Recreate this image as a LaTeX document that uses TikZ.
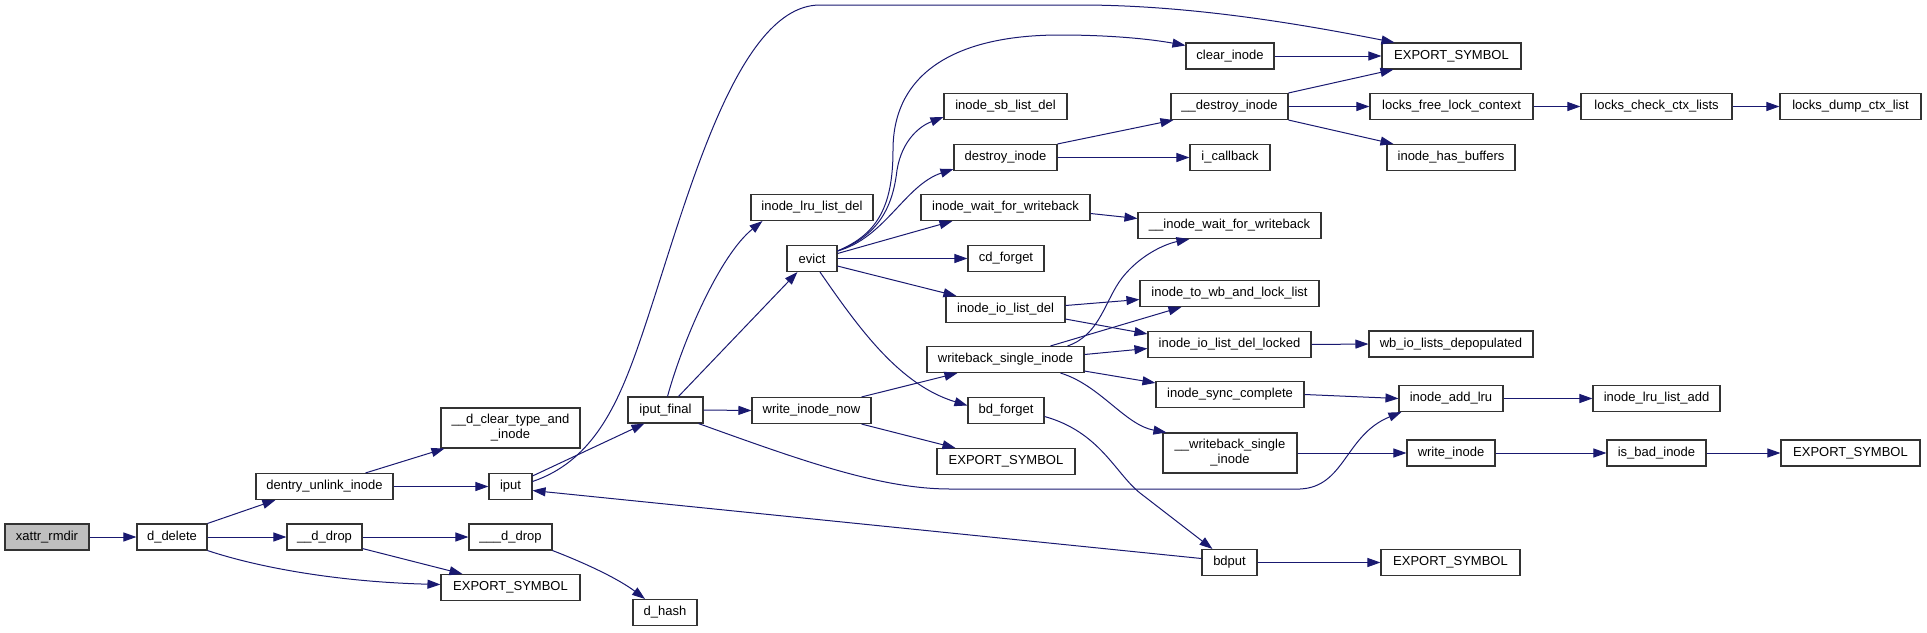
\documentclass[tikz,border=0pt]{standalone}
\usepackage{fontspec}
\setmainfont{Liberation Sans}
\usetikzlibrary{arrows.meta, calc}
\definecolor{edgeblue}{HTML}{191970}

\begin{document}
\begin{tikzpicture}[
  x=1pt, y=-1pt,
  func/.style={draw=black!80, line width=1.1pt, fill=white, inner sep=0pt, minimum height=26pt, font=\fontsize{13}{15}\selectfont, align=center},
  root/.style={func, fill=black!25},
  call/.style={-{Triangle[length=13pt,width=9pt]}, edgeblue, line width=1pt}
]
\useasboundingbox (0,0) rectangle (1927,632);

\node[root, minimum width=84] (xattr) at (47,537) {xattr\_rmdir};
\node[func, minimum width=70] (ddel) at (172,537) {d\_delete};
\node[func, minimum width=137] (dunlink) at (324.5,486.5) {dentry\_unlink\_inode};
\node[func, minimum width=75] (ddrop) at (324.5,537) {\_\_d\_drop};
\node[func, minimum width=139, minimum height=40] (dclear) at (510.5,428) {\_\_d\_clear\_type\_and\\\_inode};
\node[func, minimum width=43] (iput) at (510.5,486.5) {iput};
\node[func, minimum width=83] (dddrop) at (510.5,537) {\_\_\_d\_drop};
\node[func, minimum width=139] (expA) at (510.5,587.5) {EXPORT\_SYMBOL};
\node[func, minimum width=75] (iputf) at (665.5,410) {iput\_final};
\node[func, minimum width=64] (dhash) at (665,612.5) {d\_hash};
\node[func, minimum width=122] (lrudel) at (812,207.5) {inode\_lru\_list\_del};
\node[func, minimum width=50] (evict) at (812,258.5) {evict};
\node[func, minimum width=119] (winow) at (811.5,410.5) {write\_inode\_now};
\node[func, minimum width=123] (sbdel) at (1005.5,106.5) {inode\_sb\_list\_del};
\node[func, minimum width=103] (destroy) at (1005.5,157.5) {destroy\_inode};
\node[func, minimum width=169] (iwait) at (1005.5,207.5) {inode\_wait\_for\_writeback};
\node[func, minimum width=76] (cdf) at (1006,258.5) {cd\_forget};
\node[func, minimum width=119] (iodel) at (1005.5,309.5) {inode\_io\_list\_del};
\node[func, minimum width=157] (wbsingle) at (1005.5,359.5) {writeback\_single\_inode};
\node[func, minimum width=76] (bdf) at (1006,410.5) {bd\_forget};
\node[func, minimum width=138] (expB) at (1006,461.5) {EXPORT\_SYMBOL};
\node[func, minimum width=88] (clear) at (1230,56) {clear\_inode};
\node[func, minimum width=117] (ddestroy) at (1229.5,106.5) {\_\_destroy\_inode};
\node[func, minimum width=80] (icb) at (1230,157.5) {i\_callback};
\node[func, minimum width=183] (iiwait) at (1229.5,225.5) {\_\_inode\_wait\_for\_writeback};
\node[func, minimum width=179] (towb) at (1229.5,293.5) {inode\_to\_wb\_and\_lock\_list};
\node[func, minimum width=163] (iodellk) at (1229.5,344.5) {inode\_io\_list\_del\_locked};
\node[func, minimum width=148] (sync) at (1230,394.5) {inode\_sync\_complete};
\node[func, minimum width=134, minimum height=40] (wwbsingle) at (1230,453) {\_\_writeback\_single\\\_inode};
\node[func, minimum width=55] (bdput) at (1229.5,562.5) {bdput};
\node[func, minimum width=139] (expC) at (1451.5,56) {EXPORT\_SYMBOL};
\node[func, minimum width=163] (lfree) at (1451.5,106.5) {locks\_free\_lock\_context};
\node[func, minimum width=128] (hasbuf) at (1451,157.5) {inode\_has\_buffers};
\node[func, minimum width=164] (depop) at (1451,344) {wb\_io\_lists\_depopulated};
\node[func, minimum width=104] (addlru) at (1451,398.5) {inode\_add\_lru};
\node[func, minimum width=88] (wrinode) at (1451,453) {write\_inode};
\node[func, minimum width=139] (expE) at (1450.5,562.5) {EXPORT\_SYMBOL};
\node[func, minimum width=151] (lcheck) at (1656.5,106.5) {locks\_check\_ctx\_lists};
\node[func, minimum width=127] (lruadd) at (1656.5,398.5) {inode\_lru\_list\_add};
\node[func, minimum width=99] (badinode) at (1656.5,453) {is\_bad\_inode};
\node[func, minimum width=141] (ldump) at (1850.5,106.5) {locks\_dump\_ctx\_list};
\node[func, minimum width=139] (expD) at (1850.5,453) {EXPORT\_SYMBOL};

\draw[call] (xattr.east) -- (ddel.west);
\draw[call] (ddel.north east) -- ($(dunlink.south west)+(20,0)$);
\draw[call] (ddel.east) -- (ddrop.west);
\draw[call] (ddel.south east) .. controls (260,568) and (340,582) .. ($(expA.west)+(0,-3)$);
\draw[call] ($(dunlink.north east)+(-28,0)$) -- ($(dclear.south west)+(4,0)$);
\draw[call] (dunlink.east) -- (iput.west);
\draw[call] (ddrop.east) -- (dddrop.west);
\draw[call] ($(ddrop.south east)+(0,-2)$) -- ($(expA.north west)+(22,0)$);
\draw[call] (dddrop.south east) .. controls (590,565) and (620,580) .. ($(dhash.north)+(-20,0)$);
\draw[call] ($(iput.north east)+(0,3)$) -- ($(iputf.south west)+(17,0)$);
\draw[call] ($(iput.east)+(0,-5)$) .. controls (590,462) and (615,410) .. (635,355)
  .. controls (680,230) and (730,5) .. (820,5) -- (1080,5)
  .. controls (1200,5) and (1320,28) .. ($(expC.north west)+(13,0)$);
\draw[call] ($(iputf.north)+(2,0)$) .. controls (683,340) and (720,255) .. ($(lrudel.south west)+(12,0)$);
\draw[call] ($(iputf.north)+(13,0)$) -- ($(evict.south west)+(11,0)$);
\draw[call] (iputf.east) -- (winow.west);
\draw[call] ($(iputf.south east)+(-5,0)$) .. controls (800,460) and (880,489) .. (950,489) -- (1300,489)
  .. controls (1345,487) and (1345,435) .. ($(addlru.south west)+(3,0)$);
\draw[call] ($(evict.north east)+(0,6)$) .. controls (875,235) and (893,210) .. (893,150)
  .. controls (893,70) and (960,35) .. (1060,35) .. controls (1110,35) and (1150,39) .. ($(clear.north west)+(0,3)$);
\draw[call] ($(evict.north east)+(0,6)$) .. controls (880,235) and (893,205) .. (897,170)
  .. controls (902,140) and (920,126) .. ($(sbdel.south west)+(0,-3)$);
\draw[call] ($(evict.north east)+(0,6)$) .. controls (885,238) and (905,185) .. ($(destroy.south west)+(0,-2)$);
\draw[call] ($(evict.east)+(0,-5)$) -- ($(iwait.south west)+(32,0)$);
\draw[call] (evict.east) -- (cdf.west);
\draw[call] ($(evict.south east)+(0,-6)$) -- ($(iodel.north west)+(11,0)$);
\draw[call] ($(evict.south)+(8,0)$) .. controls (860,330) and (900,385) .. ($(bdf.west)+(0,-5)$);
\draw[call] ($(winow.north east)+(-10,0)$) -- ($(wbsingle.south west)+(31,0)$);
\draw[call] ($(winow.south east)+(-10,0)$) -- ($(expB.north west)+(19,0)$);
\draw[call] (clear.east) -- (expC.west);
\draw[call] (destroy.north east) -- ($(ddestroy.south west)+(3,0)$);
\draw[call] (destroy.east) -- (icb.west);
\draw[call] (ddestroy.north east) -- ($(expC.south west)+(12,0)$);
\draw[call] (ddestroy.east) -- (lfree.west);
\draw[call] (ddestroy.south east) -- ($(hasbuf.north west)+(7,0)$);
\draw[call] (lfree.east) -- (lcheck.west);
\draw[call] (lcheck.east) -- (ldump.west);
\draw[call] ($(iwait.east)+(0,6)$) -- ($(iiwait.west)+(0,-7)$);
\draw[call] ($(iodel.east)+(0,-4)$) -- ($(towb.west)+(0,6)$);
\draw[call] ($(iodel.south east)+(0,-4)$) -- ($(iodellk.north west)+(0,3)$);
\draw[call] ($(wbsingle.north east)+(-17,0)$) .. controls (1100,335) and (1105,300) .. (1122,278)
  .. controls (1140,255) and (1165,244) .. ($(iiwait.south west)+(52,0)$);
\draw[call] ($(wbsingle.north)+(45,0)$) -- ($(towb.south west)+(42,0)$);
\draw[call] ($(wbsingle.east)+(0,-5)$) -- ($(iodellk.west)+(0,4)$);
\draw[call] ($(wbsingle.south east)+(0,-2)$) -- ($(sync.north west)+(0,2)$);
\draw[call] ($(wbsingle.south)+(55,0)$) .. controls (1100,385) and (1125,425) .. ($(wwbsingle.north west)+(4,0)$);
\draw[call] (iodellk.east) -- (depop.west);
\draw[call] (sync.east) -- (addlru.west);
\draw[call] (wwbsingle.east) -- (wrinode.west);
\draw[call] (addlru.east) -- (lruadd.west);
\draw[call] (wrinode.east) -- (badinode.west);
\draw[call] (badinode.east) -- (expD.west);
\draw[call] ($(bdf.east)+(0,6)$) .. controls (1100,432) and (1115,473) .. (1140,493) -- ($(bdput.north west)+(11,0)$);
\draw[call] ($(bdput.west)+(0,-4)$) -- ($(iput.east)+(0,4)$);
\draw[call] (bdput.east) -- (expE.west);
\end{tikzpicture}
\end{document}
